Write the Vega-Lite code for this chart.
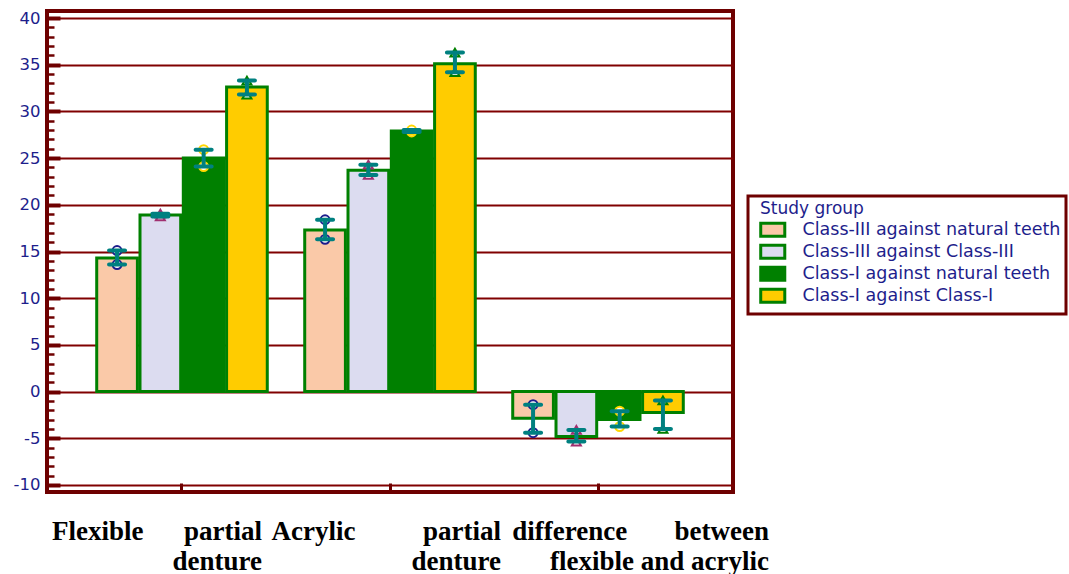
{
  "$schema": "https://vega.github.io/schema/vega-lite/v6.json",
  "width": 686,
  "height": 481,
  "autosize": {"type": "none"},
  "padding": {"left": 47, "top": 11, "right": 336, "bottom": 82},
  "background": "white",
  "config": {"view": {"stroke": "#6E0000", "strokeWidth": 4}},
  "data": {
    "values": [
      {"group": "g1", "cls": "Class-III against natural teeth", "mean": 14.3, "lo": 13.6, "hi": 15.1},
      {"group": "g1", "cls": "Class-III against Class-III", "mean": 18.9, "lo": 18.75, "hi": 19.05},
      {"group": "g1", "cls": "Class-I against natural teeth", "mean": 25.0, "lo": 24.1, "hi": 25.9},
      {"group": "g1", "cls": "Class-I against Class-I", "mean": 32.6, "lo": 31.8, "hi": 33.3},
      {"group": "g2", "cls": "Class-III against natural teeth", "mean": 17.3, "lo": 16.3, "hi": 18.4},
      {"group": "g2", "cls": "Class-III against Class-III", "mean": 23.7, "lo": 23.2, "hi": 24.3},
      {"group": "g2", "cls": "Class-I against natural teeth", "mean": 27.9, "lo": 27.8, "hi": 28.0},
      {"group": "g2", "cls": "Class-I against Class-I", "mean": 35.1, "lo": 34.2, "hi": 36.3},
      {"group": "g3", "cls": "Class-III against natural teeth", "mean": -2.85, "lo": -4.4, "hi": -1.4},
      {"group": "g3", "cls": "Class-III against Class-III", "mean": -4.8, "lo": -5.35, "hi": -4.1},
      {"group": "g3", "cls": "Class-I against natural teeth", "mean": -3.0, "lo": -3.75, "hi": -2.1},
      {"group": "g3", "cls": "Class-I against Class-I", "mean": -2.25, "lo": -4.0, "hi": -0.95}
    ]
  },
  "encoding": {
    "x": {
      "field": "group",
      "type": "nominal",
      "scale": {"domain": ["g1", "g2", "g3"], "paddingInner": 0.18, "paddingOuter": 0.239},
      "axis": {
        "title": null,
        "domain": false,
        "ticks": true,
        "tickColor": "#6E0000",
        "tickSize": -9,
        "tickWidth": 3,
        "labelAngle": 0,
        "labelAlign": "right",
        "labelBaseline": "top",
        "labelOffset": {"condition": [{"test": "datum.value === 'g1'", "value": 80}, {"test": "datum.value === 'g2'", "value": 111}], "value": 171},
        "labelExpr": "datum.value === 'g1' ? ['Flexible\u00a0\u00a0\u00a0\u00a0\u00a0\u00a0partial', 'denture'] : datum.value === 'g2' ? ['Acrylic\u00a0\u00a0\u00a0\u00a0\u00a0\u00a0\u00a0\u00a0\u00a0\u00a0partial', 'denture'] : ['difference\u00a0\u00a0\u00a0\u00a0\u00a0\u00a0\u00a0between', 'flexible and acrylic']",
        "labelFont": "Liberation Serif",
        "labelFontWeight": "bold",
        "labelFontSize": 27,
        "labelColor": "black",
        "labelLineHeight": 30,
        "labelPadding": 35,
        "labelLimit": 0,
        "labelOverlap": false,
        "labelBound": false
      }
    },
    "xOffset": {
      "field": "cls",
      "type": "nominal",
      "scale": {"domain": ["Class-III against natural teeth", "Class-III against Class-III", "Class-I against natural teeth", "Class-I against Class-I"], "paddingInner": 0.06, "paddingOuter": 0}
    }
  },
  "layer": [
    {
      "mark": {"type": "bar", "stroke": "#008000", "strokeWidth": 3},
      "encoding": {
        "y": {
          "field": "mean",
          "type": "quantitative",
          "scale": {"domain": [-10.75, 40.75], "nice": false, "zero": false},
          "axis": {
            "title": null,
            "domain": false,
            "tickCount": 100,
            "values": [-10,-9,-8,-7,-6,-5,-4,-3,-2,-1,0,1,2,3,4,5,6,7,8,9,10,11,12,13,14,15,16,17,18,19,20,21,22,23,24,25,26,27,28,29,30,31,32,33,34,35,36,37,38,39,40],
            "labelExpr": "datum.value % 5 === 0 ? '' + datum.value : ''",
            "grid": true,
            "gridColor": "#800000",
            "gridWidth": 2,
            "gridOpacity": {"condition": {"test": "datum.value % 5 === 0", "value": 1}, "value": 0},
            "tickColor": "#6E0000",
            "tickSize": {"condition": {"test": "datum.value % 5 === 0", "value": -13}, "value": -7},
            "tickWidth": {"condition": {"test": "datum.value % 5 === 0", "value": 4}, "value": 2.5},
            "labelFont": "DejaVu Sans",
            "labelFontSize": 16.5,
            "labelColor": "#1E1E8C",
            "labelPadding": 20,
            "labelOverlap": false,
            "labelBound": false
          }
        },
        "y2": {"datum": 0},
        "fill": {
          "field": "cls",
          "type": "nominal",
          "scale": {
            "domain": ["Class-III against natural teeth", "Class-III against Class-III", "Class-I against natural teeth", "Class-I against Class-I"],
            "range": ["#FAC9A8", "#DCDCF0", "#008000", "#FFCC00"]
          },
          "legend": {
            "title": "Study group",
            "orient": "none",
            "legendX": 701,
            "legendY": 185,
            "symbolType": "M-1.85,-1H1.85V1H-1.85Z",
            "symbolSize": 169,
            "symbolStrokeColor": "#008000",
            "symbolStrokeWidth": 3,
            "symbolOpacity": 1,
            "labelFont": "DejaVu Sans",
            "labelFontSize": 17.5,
            "labelColor": "#1E1E8C",
            "labelOffset": 21,
            "labelLimit": 0,
            "titleFont": "DejaVu Sans",
            "titleFontSize": 17,
            "titleFontWeight": "normal",
            "titleColor": "#1E1E8C",
            "titlePadding": 3,
            "strokeColor": "#6E0000",
            "padding": 5,
            "rowPadding": -6.5,
            "symbolOffset": 11,
            "encode": {"legend": {"update": {"strokeWidth": {"value": 3}}}, "title": {"update": {"dx": {"value": 7}}}}
          }
        }
      }
    },
    {
      "transform": [{"fold": ["lo", "hi"], "as": ["end", "val"]}],
      "mark": {"type": "point", "filled": false, "fill": "white", "fillOpacity": 1, "strokeWidth": 2, "size": 80, "opacity": 1},
      "encoding": {
        "y": {"field": "val", "type": "quantitative"},
        "shape": {
          "condition": {"test": "datum.cls === 'Class-III against Class-III' || datum.cls === 'Class-I against Class-I'", "value": "triangle-up"},
          "value": "circle"
        },
        "stroke": {
          "condition": [
            {"test": "datum.cls === 'Class-III against natural teeth'", "value": "#1C1C8C"},
            {"test": "datum.cls === 'Class-III against Class-III'", "value": "#A03070"},
            {"test": "datum.cls === 'Class-I against natural teeth'", "value": "#FFD700"}
          ],
          "value": "#008000"
        }
      }
    },
    {
      "mark": {"type": "rule", "color": "#008080", "strokeWidth": 4},
      "encoding": {
        "y": {"field": "lo", "type": "quantitative"},
        "y2": {"field": "hi"}
      }
    },
    {
      "transform": [{"fold": ["lo", "hi"], "as": ["end", "val"]}],
      "mark": {"type": "tick", "color": "#008080", "size": 20, "thickness": 4, "opacity": 1, "cornerRadius": 2},
      "encoding": {
        "y": {"field": "val", "type": "quantitative"}
      }
    }
  ]
}
